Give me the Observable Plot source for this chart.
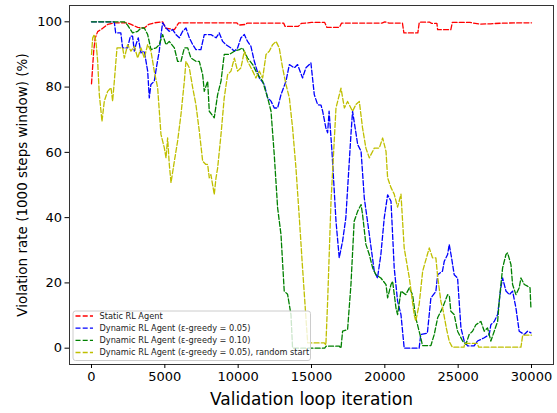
<!DOCTYPE html>
<html><head><meta charset="utf-8">
<script src="https://cdn.jsdelivr.net/npm/d3@7"></script>
<script src="https://cdn.jsdelivr.net/npm/@observablehq/plot@0.6"></script>
<style>body{margin:0;background:#fff}</style>
</head><body><div id="chart"></div>
<script>
const seriesNames = [
  "Static RL Agent",
  "Dynamic RL Agent (ε-greedy = 0.05)",
  "Dynamic RL Agent (ε-greedy = 0.10)",
  "Dynamic RL Agent (ε-greedy = 0.05), random start"
];
const seriesColors = ["#ff0000", "#0000ff", "#008000", "#bfbf00"];
const xTicks = [0, 5000, 10000, 15000, 20000, 25000, 30000];
const yTicks = [0, 20, 40, 60, 80, 100];

const staticAgent = [[0,81],[150,91],[250,95],[420,97],[760,98],[1100,99.2],[1550,99.7],[2450,99.7],[2700,99.2],[3150,98.3],[3600,98.1],[3900,99.2],[4300,99.7],[4850,100],[5050,98.1],[5650,97.6],[5950,99.7],[9900,99.7],[10050,99],[10500,99.2],[10600,99.6],[13100,99.6],[13200,98.6],[14100,98.6],[14300,99.5],[15000,99.8],[15900,99.8],[16050,98.3],[16900,98.3],[17050,99.6],[19800,99.6],[20000,100],[20300,99.6],[21200,99.6],[21300,96.6],[22250,96.6],[22350,99.9],[23050,99.9],[23200,99.5],[23550,99.5],[23600,97.6],[24500,97.6],[24600,99.8],[25800,99.8],[26500,99.3],[27200,99.4],[28000,99.6],[29500,99.7],[30000,99.7]];

const dynamic005 = [[0,100],[1550,100],[1650,96.6],[2000,96.6],[2120,92],[2460,92],[2650,95.6],[2800,95.6],[2920,91],[3030,93],[3190,95.1],[3370,90.5],[3600,91],[3830,84.9],[3940,76.7],[4050,80.8],[4280,81.8],[4460,86.9],[4620,91],[4740,96.1],[4850,99.7],[5080,98.1],[5300,97.1],[5530,97.6],[5760,96.1],[5990,95.1],[6215,97.1],[6440,98.1],[6670,95.1],[6900,93],[7120,91.5],[7460,91.5],[7690,96.1],[8140,96.1],[8490,95.1],[8710,96.6],[8940,94],[9170,93],[9510,92],[9740,91],[9960,92],[10190,95.1],[10420,96.1],[10640,94],[10870,92.5],[11100,87.9],[11440,82.8],[11780,80.8],[12010,76.7],[12240,75.7],[12460,73.6],[12690,73.6],[12920,77.7],[13260,81.8],[13490,86.9],[13830,85.9],[14050,86.9],[14390,82.8],[14620,85.9],[14960,87.4],[15190,77.7],[15420,74.6],[15650,74.5],[15760,72.6],[15980,67.5],[16100,66],[16200,72.6],[16400,60],[16670,38.9],[16890,27.7],[17120,32.8],[17340,39.9],[17690,65.5],[17800,72.6],[18150,62.4],[18380,60.3],[18600,46],[18940,34.9],[19280,23.6],[19500,21.5],[19730,28.7],[19960,39.9],[20190,47],[20420,45],[20640,24.6],[20870,14.4],[21100,10.3],[21320,0],[22340,0],[22450,4.2],[22900,4.6],[23140,15.4],[23480,17.4],[23600,22.5],[23930,23.6],[24050,26.6],[24280,28.7],[24390,31.8],[24550,27.7],[24730,22.5],[24960,21.5],[25190,6.2],[25410,2.2],[25640,0.7],[26090,0.7],[26320,2.2],[26780,3.2],[27120,4.2],[27230,7.2],[27460,8.2],[27690,10.3],[27910,18.5],[28030,21.5],[28260,17.5],[28490,16.4],[28710,17.5],[28940,12.3],[29160,5.2],[29510,4.2],[29730,5.2],[29960,4.7]];

const dynamic010 = [[0,100],[2240,100],[2460,99],[2800,96.6],[3150,97.1],[3370,98.1],[3600,98.1],[3830,96.1],[4055,91.5],[4400,92],[4620,93],[4850,96.1],[5080,93],[5300,94],[5650,92],[5870,87.9],[6100,87.9],[6330,92],[6560,92],[6780,88.9],[7120,87.9],[7350,87.9],[7580,83.8],[7690,78.7],[7920,81.8],[8030,72.6],[8370,70.6],[8600,77.7],[8830,81.8],[9050,90],[9390,90],[9740,91],[10080,91.5],[10300,92],[10640,88.9],[10990,86.9],[11330,83.8],[11670,81.8],[12010,76.7],[12240,72.6],[12460,59.3],[12690,43],[12920,34.8],[13140,17.5],[13370,16.5],[13600,10.3],[13710,0],[15900,0],[16000,0.6],[16900,0.6],[17010,0],[17120,5.2],[17460,5.7],[17690,19.5],[17910,38.9],[18150,42],[18380,44],[18480,41],[18710,31.8],[18940,28.7],[19170,24.6],[19390,22.5],[19730,21.5],[20080,19.5],[20190,15.4],[20420,19.5],[20530,20.5],[20760,12.3],[20870,10.3],[21100,17.5],[21430,16.4],[21670,18.5],[21890,16.4],[22110,9.3],[22450,3.2],[22570,0.8],[23140,0.8],[23370,4.2],[23600,9.3],[23930,12.3],[24280,16.4],[24400,16],[24500,11.3],[24730,10.3],[24960,5.2],[25300,2.2],[25530,1.2],[25750,4.2],[25980,5.2],[26210,7.2],[26550,8.2],[26780,5.2],[27000,6.2],[27230,2.2],[27460,5.2],[27690,8.2],[27800,14.4],[28030,24.6],[28260,28.7],[28370,29.2],[28600,25.6],[28710,19.5],[28940,16.4],[29160,18.5],[29280,21.5],[29510,19.5],[29730,19],[29900,18.5],[29960,12.3]];

const dynamicRandom = [[0,90],[80,95],[190,96.1],[305,94],[420,87.9],[533,77.7],[647,72.6],[715,69.5],[874,75.7],[1100,78.7],[1330,79.8],[1440,75.7],[1556,81.8],[1738,92],[2124,92],[2240,88.9],[2465,93],[2690,91],[2920,92.5],[3146,88.9],[3374,92],[3600,88.9],[3828,93],[4055,91],[4280,84.9],[4510,79.8],[4737,65.5],[4965,61.4],[5080,58.3],[5190,64.4],[5305,56.3],[5420,50.7],[5650,57.3],[5870,63.4],[6100,71.6],[6330,81.8],[6440,87.9],[6670,85.9],[6900,79.8],[7120,74.6],[7350,66.5],[7580,57.3],[7800,56.3],[7920,56.3],[8030,52.2],[8140,53.2],[8370,47.1],[8490,52.2],[8600,55.2],[8830,65.5],[9050,76.7],[9280,83.8],[9510,84.9],[9740,88.9],[9960,84.9],[10190,85.9],[10420,91],[10640,87.9],[10990,84.9],[11210,82.8],[11440,84.9],[11670,82.8],[11900,90],[12120,91],[12350,93],[12580,94],[12800,92],[13030,85.9],[13260,80.8],[13490,76.7],[13710,67.5],[13940,55.2],[14170,39.9],[14390,24.6],[14620,9.3],[14740,1.6],[15870,1.6],[15980,1],[16100,14.4],[16330,45],[16670,73.6],[17010,79.7],[17240,73.6],[17460,75.6],[17800,72.6],[18030,74.7],[18260,75.6],[18480,67.5],[18710,61.3],[18940,58.3],[19280,61.3],[19620,61.3],[19850,64.4],[20080,60.3],[20190,52.2],[20420,49.2],[20640,47.2],[20870,43.2],[21100,47.2],[21320,30.7],[21670,21.5],[22000,10.3],[22110,8.3],[22340,13.4],[22580,23.6],[22900,28.7],[23030,30.7],[23250,27.7],[23480,27.7],[23600,22],[23820,14.4],[24000,11],[24200,6],[24400,2],[24600,0.3],[25400,0.3],[25450,1.5],[26300,1.5],[26400,0.3],[29280,0.3],[29400,4],[30000,4]];

const allSeries = [staticAgent, dynamic005, dynamic010, dynamicRandom];
const rows = [];
allSeries.forEach((s, i) => s.forEach(([x, y]) => rows.push({x, y, series: seriesNames[i]})));

const dash = "5,2.2";
const plot = Plot.plot({
  width: 557, height: 413,
  marginLeft: 69, marginRight: 4, marginTop: 5, marginBottom: 49,
  style: {fontFamily: "DejaVu Sans", background: "#fff", color: "#000"},
  x: {domain: [-1500, 31500]},
  y: {domain: [-5, 105]},
  color: {domain: seriesNames, range: seriesColors},
  marks: [
    Plot.line(rows, {x: "x", y: "y", z: "series", stroke: "series", strokeWidth: 1.3, strokeDasharray: dash}),
    Plot.frame({stroke: "#333", strokeWidth: 1}),
    Plot.axisX({ticks: xTicks, tickSize: 4, tickPadding: 3, fontSize: 13, label: null, tickFormat: d => String(d)}),
    Plot.axisY({ticks: yTicks, tickSize: 4.5, tickPadding: 3, fontSize: 13, label: null, tickFormat: d => String(d)}),
    Plot.text(["Validation loop iteration"], {text: d => d, frameAnchor: "bottom", dy: 35, fontSize: 17, lineAnchor: "middle", textAnchor: "middle"}),
    Plot.text(["Violation rate (1000 steps window) (%)"], {text: d => d, frameAnchor: "left", dx: -47, rotate: -90, fontSize: 13.5, lineAnchor: "middle", textAnchor: "middle"})
  ]
});

const svg = d3.select(plot);
const lg = svg.append("g").attr("font-family", "DejaVu Sans").attr("font-size", 8.2).attr("text-anchor", "start");
lg.append("rect").attr("x", 73).attr("y", 311).attr("width", 237.5).attr("height", 49.5)
  .attr("rx", 2.5).attr("fill", "#fff").attr("fill-opacity", 0.8).attr("stroke", "#ccc").attr("stroke-width", 1);
const rowY = [316, 328.2, 340.4, 352.5];
seriesNames.forEach((name, i) => {
  lg.append("line").attr("x1", 75.5).attr("x2", 93).attr("y1", rowY[i]).attr("y2", rowY[i])
    .attr("stroke", seriesColors[i]).attr("stroke-width", 1.3).attr("stroke-dasharray", dash);
  lg.append("text").attr("x", 99.5).attr("y", rowY[i]).attr("dy", "0.35em")
    .attr("text-anchor", "start").attr("fill", "#222").text(name);
});

document.getElementById("chart").appendChild(plot);
</script>
</body></html>
